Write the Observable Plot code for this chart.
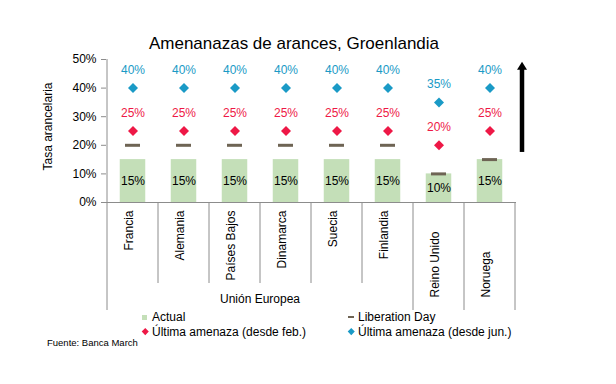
<!DOCTYPE html>
<html><head><meta charset="utf-8">
<script src="https://cdn.jsdelivr.net/npm/d3@7"></script>
<script src="https://cdn.jsdelivr.net/npm/@observablehq/plot@0.6"></script>
<style>
body{margin:0;background:#fff;font-family:"Liberation Sans",Arial,sans-serif;}
#wrap{position:relative;width:616px;height:384px;overflow:hidden;background:#fff}
#chart{position:absolute;left:0;top:0}
.t{position:absolute;white-space:nowrap;line-height:1;color:#000}
.mk{position:absolute}
</style></head><body>
<div id="wrap">
<div id="chart"></div>
<div class="t" style="left:0;width:588px;text-align:center;top:34.6px;font-size:17px">Amenanazas de arances, Groenlandia</div>
<div class="mk" style="left:142px;top:314.5px;width:5px;height:5px;background:#c4dfb8"></div>
<div class="t" style="left:152px;top:310.8px;font-size:12px">Actual</div>
<div class="mk" style="left:348px;top:316px;width:6px;height:1.5px;background:#6e6454"></div>
<div class="t" style="left:358px;top:310.8px;font-size:12px">Liberation Day</div>
<div class="mk" style="left:142.5px;top:328.5px;width:4.5px;height:4.5px;background:#ee1846;transform:rotate(45deg)"></div>
<div class="t" style="left:152px;top:325.6px;font-size:12px">Última amenaza (desde feb.)</div>
<div class="mk" style="left:348.5px;top:328.5px;width:4.5px;height:4.5px;background:#1a9ac6;transform:rotate(45deg)"></div>
<div class="t" style="left:358px;top:325.6px;font-size:12px">Última amenaza (desde jun.)</div>
<div class="t" style="left:47px;top:337.7px;font-size:9.5px">Fuente: Banca March</div>
</div>
<script>
const countries = ["Francia","Alemania","Países Bajos","Dinamarca","Suecia","Finlandia","Reino Unido","Noruega"];
const groups = ["Unión Europea","Unión Europea","Unión Europea","Unión Europea","Unión Europea","Unión Europea",null,null];
const actual = [15,15,15,15,15,15,10,15];
const liberationDay = [20,20,20,20,20,20,10,15];
const threatFeb = [25,25,25,25,25,25,20,25];
const threatJun = [40,40,40,40,40,40,35,40];
const yTicks = [0,10,20,30,40,50];
const arrowRange = [17.5,49];
const yLabel = "Tasa arancelaria";

const RED = "#ee1846", BLUE = "#1a9ac6", GREEN = "#c4dfb8", DASH = "#6e6454", GRAY = "#8c8c8c";

const data = countries.map((c,i)=>({country:c, group:groups[i], actual:actual[i], lib:liberationDay[i], feb:threatFeb[i], jun:threatJun[i]}));

function decorations(index, scales, values, dims) {
  const x = scales.x, y = scales.y;
  const n = countries.length;
  const bw = x.bandwidth ? x.bandwidth() : (dims.width - dims.marginLeft - dims.marginRight)/n;
  const y0 = y(0);
  const g = d3.create("svg:g");
  g.append("line").attr("x1",x(countries[0])).attr("x2",x(countries[0]))
    .attr("y1",y(yTicks[yTicks.length-1])).attr("y2",y0).attr("stroke",GRAY);
  for (let i=0;i<=n;i++){
    const xp = i<n ? x(countries[i]) : x(countries[n-1])+bw;
    const long = i===0 || i===n || groups[i]==null || groups[i-1]==null || groups[i]!==groups[i-1];
    g.append("line").attr("x1",xp).attr("x2",xp).attr("y1",y0).attr("y2",y0+(long?108:81))
      .attr("stroke",GRAY).attr("stroke-width",1);
  }
  const gnames = [...new Set(groups.filter(d=>d))];
  for (const gn of gnames){
    const members = countries.filter((c,i)=>groups[i]===gn);
    const cx = (x(members[0]) + x(members[members.length-1]) + bw)/2;
    g.append("text").attr("x",cx).attr("y",y0+97).attr("dy","0.32em")
      .attr("text-anchor","middle").attr("font-size",12).attr("fill","#000").text(gn);
  }
  // y axis title
  const ly = (y(yTicks[0]) + y(yTicks[yTicks.length-1]))/2 - 4;
  g.append("text").attr("transform",`translate(${dims.marginLeft-58},${ly}) rotate(-90)`)
    .attr("dy","0.32em").attr("text-anchor","middle").attr("font-size",12).attr("fill","#000").text(yLabel);
  const ax = dims.width - dims.marginRight + 6;
  const ya = y(arrowRange[0]), yb = y(arrowRange[1]);
  g.append("line").attr("x1",ax).attr("x2",ax).attr("y1",ya).attr("y2",yb+7)
    .attr("stroke","#000").attr("stroke-width",4.5);
  g.append("path").attr("d",`M${ax-5},${yb+8}L${ax+5},${yb+8}L${ax},${yb}Z`).attr("fill","#000");
  return g.node();
}

const plot = Plot.plot({
  width: 616, height: 384,
  marginTop: 59, marginBottom: 182, marginLeft: 106, marginRight: 100,
  style: {fontFamily: "Liberation Sans, Arial, sans-serif", fontSize: "12px", background: "transparent", color: "#000"},
  x: {type: "band", domain: countries, padding: 0, axis: null},
  y: {domain: [0,50], axis: null},
  marks: [
    Plot.barY(data, {x:"country", y:"actual", fill:GREEN, insetLeft:12.75, insetRight:12.75}),
    Plot.ruleY([0], {stroke: GRAY}),
    Plot.axisY({ticks: yTicks, tickFormat: d=>d+"%", tickSize:5, tickPadding:5, fontSize:12, stroke:GRAY, fill:"#000", label:null}),
    Plot.text(data, {x:"country", y:d=>d.actual/2, text:d=>d.actual+"%", fill:"#000", fontSize:12}),
    Plot.tickY(data, {x:"country", y:"lib", stroke:DASH, strokeWidth:3, insetLeft:18, insetRight:18}),
    Plot.dot(data, {x:"country", y:"feb", symbol:"diamond2", r:4.5, fill:RED, stroke:null}),
    Plot.text(data, {x:"country", y:"feb", text:d=>d.feb+"%", dy:-18, fill:RED, fontSize:12}),
    Plot.dot(data, {x:"country", y:"jun", symbol:"diamond2", r:4.5, fill:BLUE, stroke:null}),
    Plot.text(data, {x:"country", y:"jun", text:d=>d.jun+"%", dy:-18, fill:BLUE, fontSize:12}),
    Plot.text(data.filter(d=>d.group), {x:"country", frameAnchor:"bottom", text:"country", rotate:-90, textAnchor:"end", dy:8, fill:"#000", fontSize:12}),
    Plot.text(data.filter(d=>!d.group), {x:"country", frameAnchor:"bottom", text:"country", rotate:-90, textAnchor:"start", dy:95, fill:"#000", fontSize:12}),
    decorations
  ]
});
document.getElementById("chart").appendChild(plot);
</script>
</body></html>
